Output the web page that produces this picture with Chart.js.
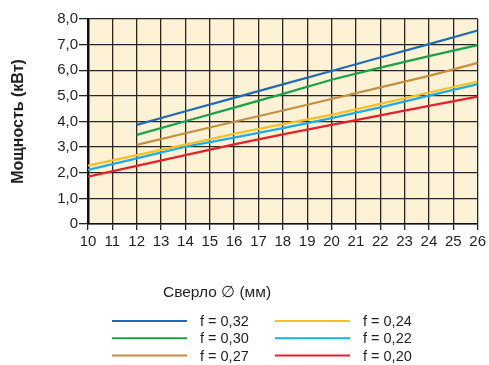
<!DOCTYPE html>
<html>
<head>
<meta charset="utf-8">
<script src="https://cdn.jsdelivr.net/npm/chart.js@4/dist/chart.umd.min.js"></script>
<style>
  html, body { margin: 0; padding: 0; background: #fff; }
  #wrap { width: 489px; height: 365px; }
</style>
</head>
<body>
<div id="wrap"><canvas id="myChart"></canvas></div>
<script>
// сверло, мм
const drillSizes = [10, 12, 14, 16, 18, 20, 22, 24, 26]
// мощность, кВт
const f032 = [null, 3.87, 4.40, 4.92, 5.45, 5.97, 6.50, 7.02, 7.55]
const f030 = [null, 3.48, 4.01, 4.54, 5.08, 5.63, 6.10, 6.55, 6.98]
const f027 = [null, 3.09, 3.54, 3.99, 4.43, 4.88, 5.33, 5.78, 6.29]
const f024 = [2.28, 2.69, 3.10, 3.52, 3.90, 4.26, 4.69, 5.13, 5.56]
const f022 = [2.11, 2.56, 3.02, 3.37, 3.74, 4.13, 4.55, 5.01, 5.46]
const f020 = [1.85, 2.27, 2.69, 3.11, 3.50, 3.87, 4.24, 4.61, 4.97]
const seriesLabels = ['f = 0,32', 'f = 0,30', 'f = 0,27', 'f = 0,24', 'f = 0,22', 'f = 0,20']
const yTickLabels = ['0', '1,0', '2,0', '3,0', '4,0', '5,0', '6,0', '7,0', '8,0']
const xTickLabels = ['10', '11', '12', '13', '14', '15', '16', '17', '18', '19', '20', '21', '22', '23', '24', '25', '26']

const colors = ['#1f6cb4', '#17a348', '#c78e3e', '#fbbf22', '#1aaee9', '#e62129']
const font = "'Liberation Sans', Arial, sans-serif"

const toPoints = (vals) => drillSizes.map((x, i) => ({ x: x, y: vals[i] }))

const datasets = [f032, f030, f027, f024, f022, f020].map((vals, i) => ({
    label: seriesLabels[i],
    data: toPoints(vals),
    borderColor: colors[i],
    backgroundColor: colors[i],
    borderWidth: 2.2,
    pointRadius: 0,
    tension: 0,
    fill: false
}))

const areaBg = {
    id: 'areaBg',
    beforeDraw(chart) {
        const { ctx, chartArea: a } = chart
        ctx.save()
        ctx.fillStyle = '#fdf2d5'
        ctx.fillRect(a.left, a.top, a.right - a.left, a.bottom - a.top)
        ctx.restore()
    }
}

// подпись оси X и легенда в две колонки
const extras = {
    id: 'extras',
    afterDraw(chart) {
        const ctx = chart.ctx
        ctx.save()
        ctx.fillStyle = '#231f20'
        ctx.font = '15.5px ' + font
        ctx.textBaseline = 'middle'
        ctx.textAlign = 'left'
        ctx.fillText('Сверло \u2205 (мм)', 163, 293)

        ctx.font = '14.5px ' + font
        chart.data.datasets.forEach((ds, i) => {
            const col = i < 3 ? 0 : 1
            const row = i % 3
            const y = 321 + row * 17.3
            const x0 = col === 0 ? 112 : 275
            ctx.strokeStyle = ds.borderColor
            ctx.lineWidth = 2
            ctx.beginPath()
            ctx.moveTo(x0, y)
            ctx.lineTo(x0 + 75, y)
            ctx.stroke()
            ctx.fillStyle = '#231f20'
            ctx.fillText(ds.label, x0 + 88, y + 1)
        })
        ctx.restore()
    }
}

new Chart(document.getElementById('myChart'), {
    type: 'line',
    data: { datasets: datasets },
    options: {
        responsive: true,
        maintainAspectRatio: false,
        animation: false,
        layout: { padding: { top: 19, right: 11, bottom: 111, left: 0 } },
        plugins: {
            legend: { display: false },
            tooltip: { enabled: false }
        },
        scales: {
            x: {
                type: 'linear',
                min: 10,
                max: 26,
                afterFit: (s) => { s.height = 30 },
                afterBuildTicks: (s) => { s.ticks = xTickLabels.map(t => ({ value: Number(t) })) },
                ticks: {
                    stepSize: 1,
                    padding: 3,
                    maxRotation: 0,
                    autoSkip: false,
                    color: '#231f20',
                    font: { family: font, size: 15 },
                    callback: (v) => xTickLabels[v - 10]
                },
                grid: { color: '#262626', lineWidth: 1.3, tickLength: 6 },
                border: { color: '#111', width: 1.5 }
            },
            y: {
                min: 0,
                max: 8,
                afterFit: (s) => { s.width = 88 },
                ticks: {
                    stepSize: 1,
                    padding: 1,
                    color: '#231f20',
                    font: { family: font, size: 15 },
                    callback: (v) => yTickLabels[v]
                },
                grid: { color: '#262626', lineWidth: 1.3, tickLength: 9 },
                border: { color: '#111', width: 2.5 },
                title: {
                    display: true,
                    text: 'Мощность (кВт)',
                    color: '#231f20',
                    font: { family: font, size: 16, weight: 'bold' },
                    padding: { top: 9, bottom: 0 }
                }
            }
        }
    },
    plugins: [areaBg, extras]
})
</script>
</body>
</html>
